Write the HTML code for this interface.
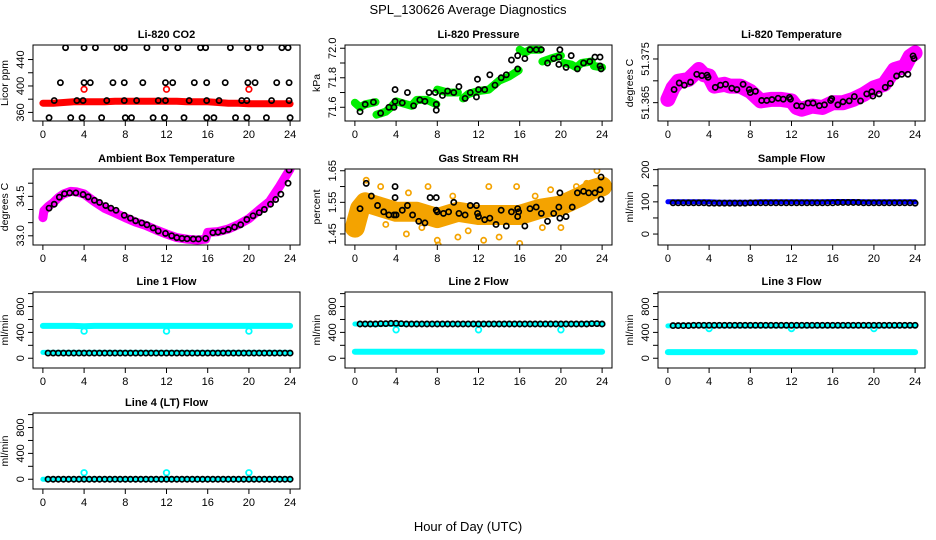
<!DOCTYPE html>
<html><head><meta charset="utf-8"><style>
html,body{margin:0;padding:0;background:#fff;}
svg{display:block;font-family:"Liberation Sans",Arial,sans-serif;}
</style></head><body>
<svg id="fig" width="936" height="540" viewBox="0 0 936 540">
<rect x="0" y="0" width="936" height="540" fill="#fff"/>
<text x="468" y="14" text-anchor="middle" font-size="13">SPL_130626  Average Diagnostics</text>
<text x="468" y="531" text-anchor="middle" font-size="13">Hour of Day (UTC)</text>
</svg>
<script>
const xTicks=[0,4,8,12,16,20,24];
const hours=[0,1,2,3,4,5,6,7,8,9,10,11,12,13,14,15,16,17,18,19,20,21,22,23,24];
const halfHours=[0.5,1,1.5,2,2.5,3,3.5,4,4.5,5,5.5,6,6.5,7,7.5,8,8.5,9,9.5,10,10.5,11,11.5,12,12.5,13,13.5,14,14.5,15,15.5,16,16.5,17,17.5,18,18.5,19,19.5,20,20.5,21,21.5,22,22.5,23,23.5,24];
// CO2
const co2Red=[374,374,375,376,376,376,376,377,377,377,377,377,377,377,376,376,376,375,374,374,373,373,373,373,373];
const co2OutT=[4,12,20];
const co2OutV=[395,395,395];
const co2BlkT=[2.2,4.0,5.1,7.2,7.9,10.1,11.9,13.1,15.3,15.8,18.2,19.9,21.1,23.2,23.8,1.7,4.0,4.6,6.8,7.9,9.7,11.9,12.6,14.7,15.9,17.7,19.9,20.6,22.7,23.9,1.1,3.3,3.9,6.2,7.9,9.1,11.2,11.9,14.2,15.9,17.1,19.3,19.8,22.2,23.9,0.6,2.7,3.8,5.7,8.0,8.6,10.7,11.8,13.7,15.9,16.6,18.7,19.8,21.7,24.0];
const co2BlkV=[458,458,458,458,458,458,458,458,458,458,458,458,458,458,458,405,405,405,405,405,405,405,405,405,405,405,405,405,405,405,378,378,378,378,378,378,378,378,378,378,378,378,378,378,378,352,352,352,352,352,352,352,352,352,352,352,352,352,352,352];
// Pressure
const presGreenT=[0,0.5,1,2,null,2.1,3,3.5,4,5,5.5,6,7,7.9,null,8,9,10,null,10.5,11,12,13,14,15,15.9,null,16,16.5,17,18,null,18.2,19,20,null,20.3,21,21.5,22,23,null,23.2,24];
const presGreenV=[71.63,71.6,71.62,71.635,null,71.55,71.57,71.6,71.64,71.62,71.61,71.65,71.65,71.62,null,71.72,71.7,71.7,null,71.66,71.69,71.71,71.72,71.78,71.81,71.85,null,71.99,71.97,71.99,71.99,null,71.91,71.93,71.95,null,71.9,71.89,71.87,71.9,71.91,null,71.88,71.87];
const presBlkT=[0.5,1,1.8,2.5,3.3,3.8,3.9,3.9,4.6,5.1,5.7,6.3,6.8,7.2,7.8,7.9,7.9,8.5,9,9.6,10.1,10.7,11.2,11.8,11.9,12,12.6,13.1,13.6,14.2,14.7,15.2,15.8,15.8,16.5,17,17.6,18.1,18.7,19.3,19.8,19.9,19.8,20.5,21,21.6,22.2,22.8,23.3,23.8,23.8,23.9];
const presBlkV=[71.57,71.62,71.635,71.56,71.6,71.6,71.72,71.64,71.63,71.7,71.61,71.65,71.64,71.7,71.7,71.62,71.58,71.68,71.71,71.7,71.74,71.66,71.7,71.67,71.79,71.72,71.72,71.82,71.75,71.8,71.82,71.92,71.95,71.86,71.93,71.99,71.99,71.99,71.9,71.93,71.94,71.99,71.89,71.87,71.95,71.86,71.9,71.91,71.94,71.94,71.88,71.86];
// Li-820 temperature
const ltT=[0,0.5,1,2,3,3.5,4,4.5,5.5,6,7,8,9,10,11,12,12.5,13,14,15,16,17,18,19,20,21,22,23,23.5,24];
const ltV=[51.36575,51.3684,51.3699,51.3703,51.3726,51.3714,51.3711,51.3688,51.3692,51.3688,51.3688,51.3676,51.3654,51.36575,51.36575,51.3654,51.3639,51.3635,51.3642,51.3639,51.365,51.365,51.36575,51.3669,51.3684,51.3692,51.3726,51.3733,51.3756,51.3764];
const ltBlkT=[0.6,1.1,1.6,2.2,2.8,3.3,3.8,3.9,4.6,5.1,5.6,6.2,6.7,7.3,7.9,8.0,8.5,9.1,9.6,10.1,10.7,11.2,11.8,11.9,12.5,13,13.6,14.1,14.7,15.2,15.8,15.9,16.5,17,17.6,18.1,18.7,19.3,19.8,19.9,20.5,21.1,21.6,22.2,22.7,23.3,23.8,23.9];
const ltBlkV=[51.368,51.3695,51.369,51.3697,51.3715,51.3712,51.3713,51.3708,51.3685,51.369,51.3692,51.3683,51.368,51.3692,51.368,51.3673,51.3676,51.3655,51.3655,51.3657,51.366,51.3658,51.3662,51.3658,51.3643,51.3642,51.3649,51.3649,51.3643,51.3645,51.3655,51.3659,51.3645,51.3652,51.3654,51.3664,51.3654,51.367,51.3675,51.3665,51.367,51.3685,51.3694,51.3711,51.3715,51.3715,51.3757,51.3751];
// Ambient box temperature
const abT=[0,0.1,0.5,1,1.5,2,2.7,3.3,4,5,6,7,8,9,10,11,12,13,14,15,15.8,16,17,18,19,20,21,22,23,24];
const abV=[33.69,33.95,34.11,34.26,34.45,34.59,34.69,34.67,34.59,34.3,34.04,33.87,33.69,33.52,33.39,33.22,33.07,32.93,32.87,32.84,32.87,33.13,33.16,33.26,33.43,33.65,33.98,34.3,34.89,35.54];
const abBlkT=[0.6,1.1,1.6,2.1,2.6,3.2,3.9,4.4,5,5.5,6.1,6.6,7.1,7.9,8.5,9,9.6,10.1,10.7,11.2,11.9,12.5,13,13.5,14,14.6,15.1,15.8,16.5,17,17.5,18,18.6,19.2,19.8,20.4,21,21.5,22.1,22.6,23.1,23.8,23.9];
const abBlkV=[34.05,34.2,34.47,34.6,34.63,34.63,34.57,34.48,34.35,34.27,34.15,34.05,33.97,33.78,33.67,33.57,33.49,33.42,33.3,33.18,33.09,33.0,32.93,32.9,32.89,32.88,32.88,32.9,33.12,33.14,33.18,33.24,33.33,33.42,33.62,33.76,33.88,34.0,34.2,34.38,34.58,35.0,35.5];
// Gas stream RH
const rhBandT=[0,0.5,1,2,4,6,8,10,12,14,16,18,20,22,23,24];
const rhBandV=[1.47,1.53,1.55,1.54,1.52,1.52,1.5,1.52,1.51,1.51,1.51,1.53,1.54,1.57,1.59,1.6];
const rhOutT=[0.2,0.4,1.1,2.5,5.2,7.1,5,8,8.1,10,12.5,13,14,15.7,16,17.5,19,20,21.5,23.5,3,6.5,9.5,11,18.2,22.5];
const rhOutV=[1.45,1.47,1.62,1.6,1.58,1.6,1.45,1.43,1.415,1.44,1.43,1.6,1.44,1.6,1.42,1.57,1.59,1.47,1.6,1.65,1.48,1.47,1.57,1.46,1.47,1.61];
const rhBlkT=[0.5,1.1,1.6,2.2,2.8,3.3,3.8,3.9,3.9,4,4.6,5.1,5.6,6.2,6.8,7.3,7.9,7.9,8,8.6,9.1,9.6,10.1,10.7,11.2,11.8,11.9,12,12.6,13.1,13.7,14.2,14.7,15.2,15.8,15.8,15.9,16.5,17,17.6,18.1,18.7,19.3,19.8,19.9,19.9,20.5,21.1,21.6,22.2,22.7,23.3,23.8,23.9,23.9];
const rhBlkV=[1.53,1.61,1.57,1.54,1.52,1.51,1.51,1.6,1.565,1.51,1.525,1.54,1.51,1.49,1.485,1.565,1.565,1.525,1.52,1.515,1.52,1.55,1.515,1.51,1.54,1.54,1.515,1.505,1.495,1.5,1.48,1.525,1.475,1.52,1.53,1.505,1.52,1.475,1.53,1.535,1.515,1.49,1.515,1.535,1.58,1.5,1.505,1.535,1.58,1.585,1.58,1.58,1.59,1.56,1.63];
// Flows (hourly bands, half-hourly averages)
const sampleBlue=[100,100,100,100,100,99,99,99,99,100,100,100,100,100,100,100,101,101,101,100,100,100,100,100,100];
const sampleBlk=[97,97,97,97,97,97,97,96,96,96,96,96,96,96,96,97,97,97,97,97,97,97,97,97,97,97,97,97,97,97,97,97,98,98,98,98,98,97,97,97,97,97,97,97,97,97,97,96];
const l1Cyan=[500,500,500,500,495,500,500,500,500,500,500,500,500,500,500,500,500,500,500,500,500,500,500,500,500];
const l1CyanLow=[90,90,90,90,90,90,90,90,90,90,90,90,90,90,90,90,90,90,90,90,90,90,90,90,90];
const l1Blk=[80,80,80,80,80,80,80,80,80,80,80,80,80,80,80,80,80,80,80,80,80,80,80,80,80,80,80,80,80,80,80,80,80,80,80,80,80,80,80,80,80,80,80,80,80,80,80,80];
const l2Cyan=[530,530,520,530,520,530,530,530,530,530,530,530,530,530,530,530,530,530,530,530,530,530,530,540,530];
const l2CyanLow=[100,100,100,100,100,100,100,100,100,100,100,100,100,100,100,100,100,100,100,100,100,100,100,100,100];
const l2Blk=[530,530,530,530,535,535,540,540,535,530,530,530,530,530,530,530,530,530,530,530,530,530,530,530,530,530,530,530,530,530,530,530,530,530,530,530,530,530,530,530,530,530,530,530,530,535,535,530];
const l3Cyan=[500,505,505,505,500,500,500,500,500,500,500,500,500,500,500,500,500,500,500,500,500,500,500,505,505];
const l3CyanLow=[95,95,95,95,95,95,95,95,95,95,95,95,95,95,95,95,95,95,95,95,95,95,95,95,95];
const l3Blk=[505,505,505,505,510,510,510,510,510,510,510,510,510,510,510,510,510,510,510,510,510,510,510,510,510,510,510,510,510,510,510,510,510,510,510,510,510,510,510,510,510,510,510,510,510,510,510,510];
const l4Cyan=[0,0,0,0,0,0,0,0,0,0,0,0,0,0,0,0,0,0,0,0,0,0,0,0,0];
const l4Blk=[0,0,0,0,0,0,0,0,0,0,0,0,0,0,0,0,0,0,0,0,0,0,0,0,0,0,0,0,0,0,0,0,0,0,0,0,0,0,0,0,0,0,0,0,0,0,0,0];
const flowOutT=[4,12,20];
const l1OutV=[420,420,420];
const l2OutV=[440,440,440];
const l3OutV=[460,460,460];
const l4OutV=[100,100,100];

const NS="http://www.w3.org/2000/svg";
const fig=document.getElementById('fig');
function mk(tag,attrs,parent){const e=document.createElementNS(NS,tag);for(const k in attrs)e.setAttribute(k,attrs[k]);(parent||fig).appendChild(e);return e;}

const COLS=[33,345,658], ROWS=[45,169,292,413], W=267, H=76;
function panel(col,row,title,ylab,ymin,ymax,ticks,labels,name){
  const L=COLS[col],T=ROWS[row];
  const g=mk('g',{});
  
  
  const sx=t=>L+(t+0.96)/25.92*W;
  const sy=v=>T+H-(v-ymin)/(ymax-ymin)*H;
  const tt=mk('text',{x:L+W/2,y:T-7,'text-anchor':'middle','font-size':11,'font-weight':'bold'},g);
  tt.textContent=title;
  
  
  const yl=mk('text',{x:0,y:0,'text-anchor':'middle','font-size':10.5,transform:`translate(${L-25},${T+H/2}) rotate(-90)`},g);
  yl.textContent=ylab;
  
  
  const ya=mk('g',{},g);
  
  
  mk('line',{x1:L,x2:L,y1:sy(ticks[0]),y2:sy(ticks[ticks.length-1]),stroke:'#000','stroke-width':1},ya);
  ticks.forEach(v=>{mk('line',{x1:L-5,x2:L,y1:sy(v),y2:sy(v),stroke:'#000','stroke-width':1},ya);});
  labels.forEach(v=>{const t=mk('text',{x:0,y:0,'text-anchor':'middle','font-size':11,transform:`translate(${L-9},${sy(v)}) rotate(-90)`},ya);t.textContent=String(v);});
  const xa=mk('g',{},g);
  
  
  xTicks.forEach(v=>{mk('line',{x1:sx(v),x2:sx(v),y1:T+H,y2:T+H+5,stroke:'#000','stroke-width':1},xa);
    const t=mk('text',{x:sx(v),y:T+H+17,'text-anchor':'middle','font-size':11},xa);t.textContent=String(v);});
  const clipId='clip'+name;
  const cp=mk('clipPath',{id:clipId},g);mk('rect',{x:L,y:T,width:W,height:H},cp);
  const plot=mk('g',{'clip-path':`url(#${clipId})`},g);
  const box=mk('rect',{x:L,y:T,width:W,height:H,fill:'none',stroke:'#000','stroke-width':1},g);
  
  
  return {plot,sx,sy};
}
function band(p,ts,vs,color,width,name){
  let d='',pen=false;
  ts.forEach((t,i)=>{const v=vs[i];if(t===null||v===null){pen=false;return;}d+=(pen?'L':'M')+p.sx(t).toFixed(1)+' '+p.sy(v).toFixed(1);pen=true;});
  const e=mk('path',{d,fill:'none',stroke:color,'stroke-width':width,'stroke-linejoin':'round','stroke-linecap':'round'},p.plot);
  
  
}
function pts(p,ts,vs,color,name,r,sw){
  const g=mk('g',{},p.plot);
  
  
  ts.forEach((t,i)=>{const v=vs[i];if(t===null||v===null)return;
    mk('circle',{cx:p.sx(t),cy:p.sy(v),r:r||2.6,fill:'none',stroke:color,'stroke-width':sw||1.7},g);});
}
let p=panel(0,0,'Li-820 CO2','Licor ppm',347,462,[360,380,400,420,440],[360,400,440],'co2');
band(p,hours,co2Red,'#ff0000',7,'co2-red-series');
pts(p,co2OutT,co2OutV,'#ff0000','co2-red-outliers',2.8,1.7);
pts(p,co2BlkT,co2BlkV,'#000','co2-average-points');

p=panel(1,0,'Li-820 Pressure','kPa',71.507,72.022,[71.6,71.7,71.8,71.9,72.0],['71.6','71.8','72.0'],'pressure');
band(p,presGreenT,presGreenV,'#00ee00',8,'pressure-green-series');
pts(p,presBlkT,presBlkV,'#000','pressure-average-points');

p=panel(2,0,'Li-820 Temperature','degrees C',51.3608,51.3782,[51.365,51.370,51.375],['51.365','51.375'],'li820-temp');
band(p,ltT,ltV,'#ff00ff',15,'li820-temp-magenta-series');
pts(p,ltBlkT,ltBlkV,'#000','li820-temp-average-points');

p=panel(0,1,'Ambient Box Temperature','degrees C',32.65,35.54,[33.0,33.5,34.0,34.5,35.0],['33.0','34.5'],'ambient-temp');
band(p,abT,abV,'#ff00ff',9,'ambient-temp-magenta-series');
pts(p,abBlkT,abBlkV,'#000','ambient-temp-average-points');

p=panel(1,1,'Gas Stream RH','percent',1.415,1.6555,[1.45,1.50,1.55,1.60,1.65],['1.45','1.55','1.65'],'rh');
band(p,rhBandT,rhBandV,'#f4a300',20,'rh-orange-series');
pts(p,rhOutT,rhOutV,'#f4a300','rh-orange-outliers',2.6,1.7);
pts(p,rhBlkT,rhBlkV,'#000','rh-average-points');

p=panel(2,1,'Sample Flow','ml/min',-34,202,[0,50,100,150,200],[0,100,200],'sample-flow');
band(p,hours,sampleBlue,'#0000ff',5,'sample-flow-blue-series');
pts(p,halfHours,sampleBlk,'#000','sample-flow-average-points');

const fT=[0,200,400,600,800,1000], fL=[0,400,800];
p=panel(0,2,'Line 1 Flow','ml/min',-151,1025,fT,fL,'line1-flow');
band(p,hours,l1Cyan,'#00ffff',6,'line1-cyan-series');
band(p,hours,l1CyanLow,'#00ffff',5,'line1-cyan-low-series');
pts(p,flowOutT,l1OutV,'#00ffff','line1-cyan-outliers',2.8,1.8);
pts(p,halfHours,l1Blk,'#000','line1-average-points');

p=panel(1,2,'Line 2 Flow','ml/min',-151,1025,fT,fL,'line2-flow');
band(p,hours,l2Cyan,'#00ffff',5,'line2-cyan-series');
band(p,hours,l2CyanLow,'#00ffff',6,'line2-cyan-low-series');
pts(p,flowOutT,l2OutV,'#00ffff','line2-cyan-outliers',2.8,1.8);
pts(p,halfHours,l2Blk,'#000','line2-average-points');

p=panel(2,2,'Line 3 Flow','ml/min',-151,1025,fT,fL,'line3-flow');
band(p,hours,l3Cyan,'#00ffff',5,'line3-cyan-series');
band(p,hours,l3CyanLow,'#00ffff',6,'line3-cyan-low-series');
pts(p,flowOutT,l3OutV,'#00ffff','line3-cyan-outliers',2.8,1.8);
pts(p,halfHours,l3Blk,'#000','line3-average-points');

p=panel(0,3,'Line 4 (LT) Flow','ml/min',-151,1025,fT,fL,'line4-flow');
band(p,hours,l4Cyan,'#00ffff',5,'line4-cyan-series');
pts(p,flowOutT,l4OutV,'#00ffff','line4-cyan-outliers',2.8,1.8);
pts(p,halfHours,l4Blk,'#000','line4-average-points');
</script>
</body></html>
